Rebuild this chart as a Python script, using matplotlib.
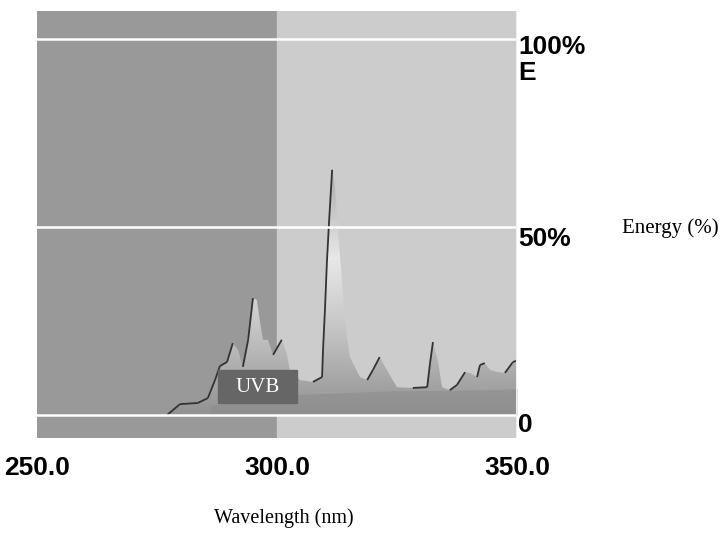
import numpy as np
import matplotlib.pyplot as plt
from matplotlib.collections import LineCollection
from matplotlib.colors import LinearSegmentedColormap

# spectrum outline (wavelength nm, energy %)
wavelength = [277.1, 279.8, 283.5, 285.6, 287.1, 288.1, 289.6, 290.8, 291.9, 292.9,
              294.0, 295.0, 295.8, 296.5, 297.1, 298.1, 299.2, 301.0, 302.0, 302.7,
              304.8, 307.5, 309.4, 309.6, 310.0, 310.4, 310.8, 311.0, 311.5, 312.1,
              312.7, 313.5, 314.2, 315.2, 317.3, 318.8, 320.0, 321.4, 322.9, 325.0,
              328.3, 331.3, 331.9, 332.5, 333.5, 334.4, 336.0, 337.5, 339.2, 340.2,
              341.7, 342.3, 343.3, 344.4, 346.0, 347.5, 349.0, 349.2, 350.0]
energy = [0.0, 2.9, 3.2, 4.5, 9.3, 13.0, 14.1, 19.1, 17.3, 12.8,
          20.0, 31.1, 30.6, 24.5, 20.0, 20.0, 16.0, 20.0, 16.5, 12.0,
          9.3, 8.8, 10.1, 17.3, 27.9, 40.4, 50.0, 54.5, 65.2, 60.6,
          49.2, 36.7, 24.5, 15.4, 10.1, 9.3, 12.0, 15.4, 12.0, 7.4,
          7.2, 7.4, 13.8, 19.4, 14.6, 7.4, 6.6, 8.0, 11.4, 11.2,
          10.1, 13.3, 13.8, 12.0, 11.4, 11.2, 13.8, 14.1, 14.5]

# darker base band under the spectrum
base_wl = [286.0, 295.0, 305.0, 315.0, 325.0, 335.0, 350.0]
base_e = [2.5, 4.0, 5.5, 6.0, 6.5, 6.5, 7.0]

x_ticks = [250, 300, 350]
x_ticklabels = ['250.0', '300.0', '350.0']
grid_levels = [0, 50, 100]

fig = plt.figure(figsize=(7.25, 5.37), dpi=100)
ax = fig.add_axes([0.051, 0.1844, 0.662, 0.7951])

# background bands
ax.axvspan(250, 300, color='#999999', zorder=0)
ax.axvspan(300, 350, color='#cccccc', zorder=0)

# spectrum fill with vertical gradient
poly = ax.fill_between(wavelength, 0, energy, color='none', zorder=2)
cmap = LinearSegmentedColormap.from_list('spec', [
    (0.0, '#929292'), (0.12, '#a4a4a4'), (0.35, '#c6c6c6'),
    (0.62, '#e8e8e8'), (0.82, '#c4c4c4'), (1.0, '#a8a8a8')])
grad = np.linspace(0, 1, 256).reshape(-1, 1)
im = ax.imshow(grad, cmap=cmap, origin='lower', aspect='auto',
               extent=(250, 350, 0, 67), zorder=2)
im.set_clip_path(poly.get_paths()[0], transform=ax.transData)
ax.set_xlim(250, 350)
ax.set_ylim(-6.1, 107.4)

ax.fill_between(base_wl, 0, np.minimum(base_e, np.interp(base_wl, wavelength, energy)),
                color='#8c8c8c', alpha=0.55, lw=0, zorder=3)

# dark outline on rising edges only
segs = []
for i in range(len(wavelength) - 1):
    if energy[i + 1] > energy[i]:
        segs.append([(wavelength[i], energy[i]), (wavelength[i + 1], energy[i + 1])])
ax.add_collection(LineCollection(segs, colors='#333333', linewidths=1.3, zorder=4))

# white grid lines
for g in grid_levels:
    ax.axhline(g, color='white', lw=1.8, zorder=5)
ax.axvline(350, color='#eeeeee', lw=1.5, zorder=5)

# UVB label box
ax.add_patch(plt.Rectangle((287.7, 3.2), 16.4, 8.8, color='#666666', zorder=6))
ax.text(295.9, 7.4, 'UVB', color='white', fontsize=15, family='Liberation Serif',
        ha='center', va='center', zorder=7)

for s in ax.spines.values():
    s.set_visible(False)
ax.set_yticks([])
ax.set_xticks(x_ticks)
ax.set_xticklabels(x_ticklabels, fontsize=19, fontweight='bold', family='Liberation Sans')
ax.tick_params(axis='x', length=0, pad=13)

# right side labels
rkw = dict(transform=ax.get_yaxis_transform(), fontsize=19, fontweight='bold',
           family='Liberation Sans', ha='left', va='center')
ax.text(1.002, 97.9, '100%', **rkw)
ax.text(1.002, 91.0, 'E', **rkw)
ax.text(1.002, 46.8, '50%', **rkw)
ax.text(1.002, -2.7, '0', **rkw)

fig.text(0.858, 0.575, 'Energy (%)', fontsize=15, family='Liberation Serif', ha='left', va='center')
fig.text(0.392, 0.035, 'Wavelength (nm)', fontsize=14.5, family='Liberation Serif', ha='center', va='center')

fig.savefig('out.png', dpi=100)
